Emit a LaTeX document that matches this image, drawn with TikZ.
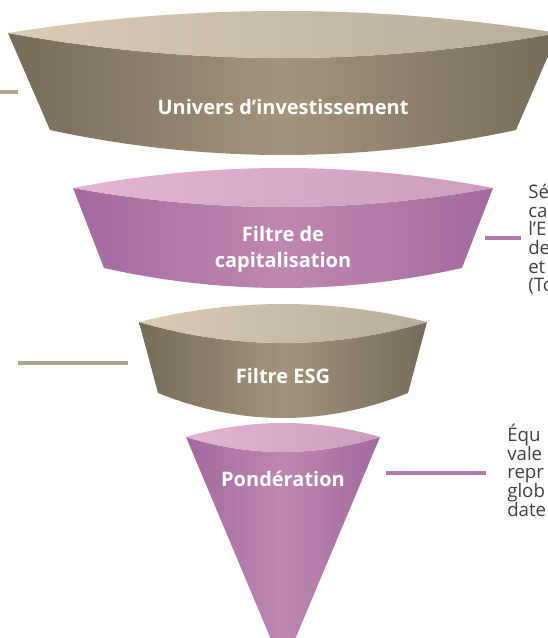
\documentclass[tikz,border=0pt]{standalone}
\usepackage{fontspec}
\setmainfont{Open Sans}
\usepackage{tikz}
\usetikzlibrary{positioning}
\definecolor{tanedge}{HTML}{766B5A}
\definecolor{tanmid}{HTML}{A3937B}
\definecolor{tanrimL}{HTML}{DACBB5}
\definecolor{tanrimR}{HTML}{B7AD9A}
\definecolor{pinkedge}{HTML}{A26A9E}
\definecolor{pinkmid}{HTML}{BE87B1}
\definecolor{pinkrimL}{HTML}{E4B4D2}
\definecolor{pinkrimR}{HTML}{CC9DBD}
\definecolor{tanrule}{HTML}{ADA68B}
\definecolor{pinkrule}{HTML}{B478B0}
\definecolor{notegray}{HTML}{404040}
\tikzstyle{tanbody} = [left color=tanedge, right color=tanedge, middle color=tanmid]
\tikzstyle{tanrim} = [left color=tanrimL, right color=tanrimR]
\tikzstyle{pinkbody} = [left color=pinkedge, right color=pinkedge, middle color=pinkmid]
\tikzstyle{pinkrim} = [left color=pinkrimL, right color=pinkrimR]
\tikzstyle{tierlabel} = [text=white, font=\bfseries\fontsize{15}{19.5}\selectfont, align=center, inner sep=0pt]
\tikzstyle{note} = [text=notegray, font=\fontsize{14}{14}\selectfont, align=left, anchor=north west, inner sep=0pt]
\tikzstyle{tanlink} = [draw=tanrule, line width=3pt]
\tikzstyle{pinklink} = [draw=pinkrule, line width=3pt]
% one tier of the funnel: top y, top half width, rim top, rim bottom,
% bottom y, bottom half width, bottom sag, colour set
\newcommand{\funneltier}[8]{%
  \shade[#8body] ({283-#2},#1) .. controls ({283-#2/3},{#1+4/3*(#4-#1)}) and ({283+#2/3},{#1+4/3*(#4-#1)}) .. ({283+#2},#1)
    -- ({283+#6},#5) .. controls ({283+#6/3},{#5+4/3*(#7-#5)}) and ({283-#6/3},{#5+4/3*(#7-#5)}) .. ({283-#6},#5) -- cycle;
  \shade[#8rim] ({283-#2},#1) .. controls ({283-#2/3},{#1+4/3*(#3-#1)}) and ({283+#2/3},{#1+4/3*(#3-#1)}) .. ({283+#2},#1)
    .. controls ({283+#2/3},{#1+4/3*(#4-#1)}) and ({283-#2/3},{#1+4/3*(#4-#1)}) .. ({283-#2},#1) -- cycle;
}

\begin{document}
\begin{tikzpicture}[x=0.75pt, y=-0.75pt]
    \useasboundingbox (0,0) rectangle (548,638);
    \clip (0,0) rectangle (548,638);

    % We start by drawing the tiers, from the top down
    \funneltier{33}{275}{11}{58}{130}{233}{155}{tan}
    \funneltier{188}{210}{168}{207}{268}{179}{288}{pink}
    \funneltier{322}{144}{304}{343}{393}{125}{418}{tan}
    \funneltier{437}{97}{423}{452}{668}{0}{668}{pink}

    % Labels on the tiers
    \node [tierlabel] (univers) at (283,107) {Univers d’investissement};
    \node [tierlabel] (capital) at (283,249) {Filtre de\\capitalisation};
    \node [tierlabel] (esg) at (283,376) {Filtre ESG};
    \node [tierlabel] (ponder) at (283,479) {Pondération};

    % Notes on the right side
    \node [note] (capnote) at (528,184) {Sé\\ca\\l’E\\de\\et\\(To};
    \node [note] (pondnote) at (507,424) {Équ\\vale\\repr\\glob\\date};

    % Leader lines
    \coordinate (universA) at (0,92);
    \coordinate (universB) at (18,92);
    \coordinate (capitalA) at (485,238);
    \coordinate (capitalB) at (521,238);
    \coordinate (esgA) at (18,363);
    \coordinate (esgB) at (128,363);
    \coordinate (ponderA) at (386,473);
    \coordinate (ponderB) at (486,473);
    \draw [tanlink] (universA) -- (universB);
    \draw [pinklink] (capitalA) -- (capitalB);
    \draw [tanlink] (esgA) -- (esgB);
    \draw [pinklink] (ponderA) -- (ponderB);
\end{tikzpicture}
\end{document}
